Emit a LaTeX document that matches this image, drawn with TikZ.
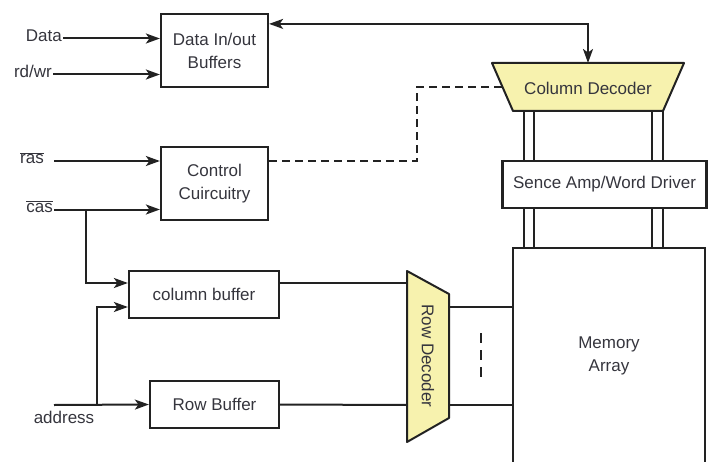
\documentclass[tikz,border=0pt]{standalone}
\usepackage{fontspec}
\setmainfont{Liberation Sans}
\usetikzlibrary{arrows.meta}
\definecolor{ink}{HTML}{222222}
\definecolor{txt}{HTML}{35353D}
\definecolor{decfill}{HTML}{F7F2AE}

\begin{document}
\begin{tikzpicture}[x=1pt,y=-1pt,
  every node/.style={font=\fontsize{17}{23}\selectfont, text=txt},
  blk/.style={draw=ink, line width=2.2pt, inner sep=0pt, align=center},
  wire/.style={draw=ink, line width=2pt},
  tip/.tip={Stealth[length=14pt,width=10pt,inset=3.5pt]},
  arr/.style={wire, -tip},
  lbl/.style={inner sep=0pt, anchor=mid east},
  dashline/.style={wire, dash pattern=on 8pt off 5pt},
  bus/.style={draw=ink, line width=1.8pt}]
\useasboundingbox (0,0) rectangle (708,462);

% ---- blocks ----
\node[blk, minimum width=107pt, minimum height=73pt] (dib) at (214.5,50.5) {Data In/out\\Buffers};
\node[blk, minimum width=107pt, minimum height=73pt] (ctrl) at (214.5,183.5) {Control\\Cuircuitry};
\node[blk, minimum width=150pt, minimum height=47pt] (colbuf) at (204,294.5) {column buffer};
\node[blk, minimum width=129pt, minimum height=47pt] (rowbuf) at (214.5,404.5) {Row Buffer};
\node[blk, minimum width=204pt, minimum height=47pt] (sense) at (604.5,184.5) {Sence Amp/Word Driver};

% column decoder (trapezium)
\draw[ink, fill=decfill, line width=2pt, line join=round]
  (492,63) -- (684,63) -- (663,111) -- (513,111) -- cycle;
\node (cdec) at (588,88) {Column Decoder};
\coordinate (cdtop) at (588,63);
\coordinate (cdleft) at (502.5,87);

% row decoder (trapezium)
\draw[ink, fill=decfill, line width=2pt, line join=round]
  (407,271) -- (449,294) -- (449,418) -- (407,442) -- cycle;
\node[rotate=-90] (rdec) at (428,356) {Row Decoder};

% memory array (open at the bottom)
\draw[ink, line width=2pt] (513,470) -- (513,248) -- (705,248) -- (705,470);
\node[align=center] (mem) at (609,356) {Memory\\Array};
\coordinate (memL) at (513,356);

% ---- input labels ----
\node[lbl] (data) at (62,38.5) {Data};
\node[lbl] (rdwr) at (52,74.5) {rd/wr};
\node[lbl] (ras) at (44,161) {$\overline{\mbox{ras}}$};
\node[lbl] (cas) at (53,209.5) {$\overline{\mbox{cas}}$};
\node (addr) at (64,417) {address};
\coordinate (addrin) at (54,405);

% ---- connectors ----
\draw[arr] ([xshift=1pt]data.mid east) -- (data.mid east -| dib.west);
\draw[arr] ([xshift=1pt]rdwr.mid east) -- (rdwr.mid east -| dib.west);
\draw[arr] ([xshift=10pt]ras.mid east) -- (ras.mid east -| ctrl.west);
\draw[arr] ([xshift=1pt]cas.mid east) -- (cas.mid east -| ctrl.west);

% data buffers <-> column decoder
\draw[wire, tip-tip] ([yshift=-11pt]dib.north east) -| (cdtop);

% control -> column decoder (dashed)
\draw[dashline] (ras.mid east -| ctrl.east) -- (417,161) |- (cdleft);

% cas branch to column buffer
\draw[arr] (86,209.5) |- ([yshift=11.5pt]colbuf.west);
% address to row buffer, with a branch to the column buffer
\draw[arr] (addrin) -- (rowbuf.west);
\draw[arr] (97,405) |- ([yshift=-12.5pt]colbuf.west);

% buffers -> row decoder
\draw[wire] ([yshift=11.5pt]colbuf.east) -- (407,283);
\draw[wire] (rowbuf.east) -- (407,405);

% row decoder -> memory array
\draw[wire] (449,307) -- (memL |- 0,307);
\draw[wire] (449,405) -- (memL |- 0,405);
\draw[wire, dash pattern=on 10pt off 7pt] (481,333) -- (481,378);

% column decoder -> sense amp -> memory array (bit line pairs)
\foreach \x in {524,534,652,663} {
  \draw[bus] (\x,111) -- (\x,161);
  \draw[bus] (\x,208) -- (\x,248);
}
\end{tikzpicture}
\end{document}
